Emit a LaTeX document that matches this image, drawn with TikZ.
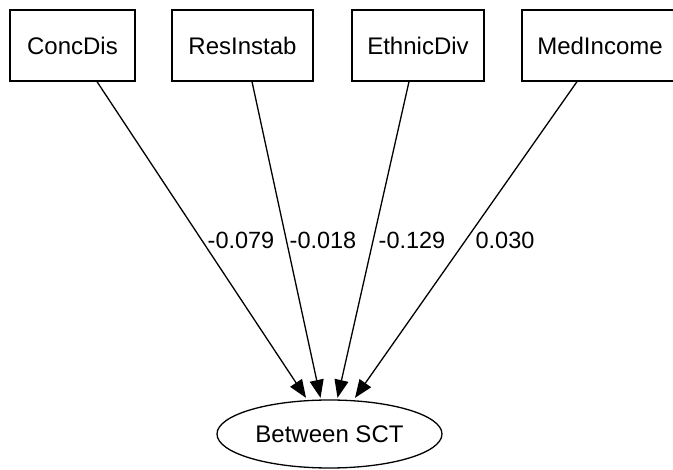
\documentclass[tikz,border=0pt]{standalone}
\usepackage{fontspec}
\setmainfont{Liberation Sans}
\usetikzlibrary{arrows.meta,shapes.geometric,calc}
\tikzset{
  varbox/.style={draw, line width=1.3pt, rectangle, minimum height=71pt, inner sep=0pt, font=\fontsize{24}{28}\selectfont},
  latent/.style={draw, line width=1.3pt, ellipse, minimum width=225pt, minimum height=68pt, inner sep=0pt, font=\fontsize{24}{28}\selectfont},
  path/.style={draw, line width=1.3pt, -{Triangle[length=18pt,width=14pt]}},
  coef/.style={font=\fontsize{23.5}{27}\selectfont, inner sep=0pt}
}
\begin{document}
\begin{tikzpicture}[x=1pt,y=1pt]
\useasboundingbox (0,0) rectangle (673,-470);
\clip (0,0) rectangle (673,-470);
\node[varbox, minimum width=125pt] (cd) at (72.5,-45.5) {ConcDis};
\node[varbox, minimum width=141pt] (ri) at (242.5,-45.5) {ResInstab};
\node[varbox, minimum width=132pt] (ed) at (418,-45.5) {EthnicDiv};
\node[varbox, minimum width=156pt] (mi) at (600,-45.5) {MedIncome};
\node[latent] (sct) at (329.5,-434) {Between SCT};
\draw[path] ($(cd.south)+(24.5,0)$) -- ($(sct.north)+(-23.5,1.5)$);
\draw[path] ($(ri.south)+(9.5,0)$) -- ($(sct.north)+(-9,1.5)$);
\draw[path] ($(ed.south)+(-9,0)$) -- ($(sct.north)+(8,1.5)$);
\draw[path] ($(mi.south)+(-23,0)$) -- ($(sct.north)+(25.5,1.5)$);
\node[coef] (l1) at (241,-240) {-0.079};
\node[coef] (l2) at (323,-240) {-0.018};
\node[coef] (l3) at (412,-240) {-0.129};
\node[coef] (l4) at (505,-240) {0.030};
\end{tikzpicture}
\end{document}
